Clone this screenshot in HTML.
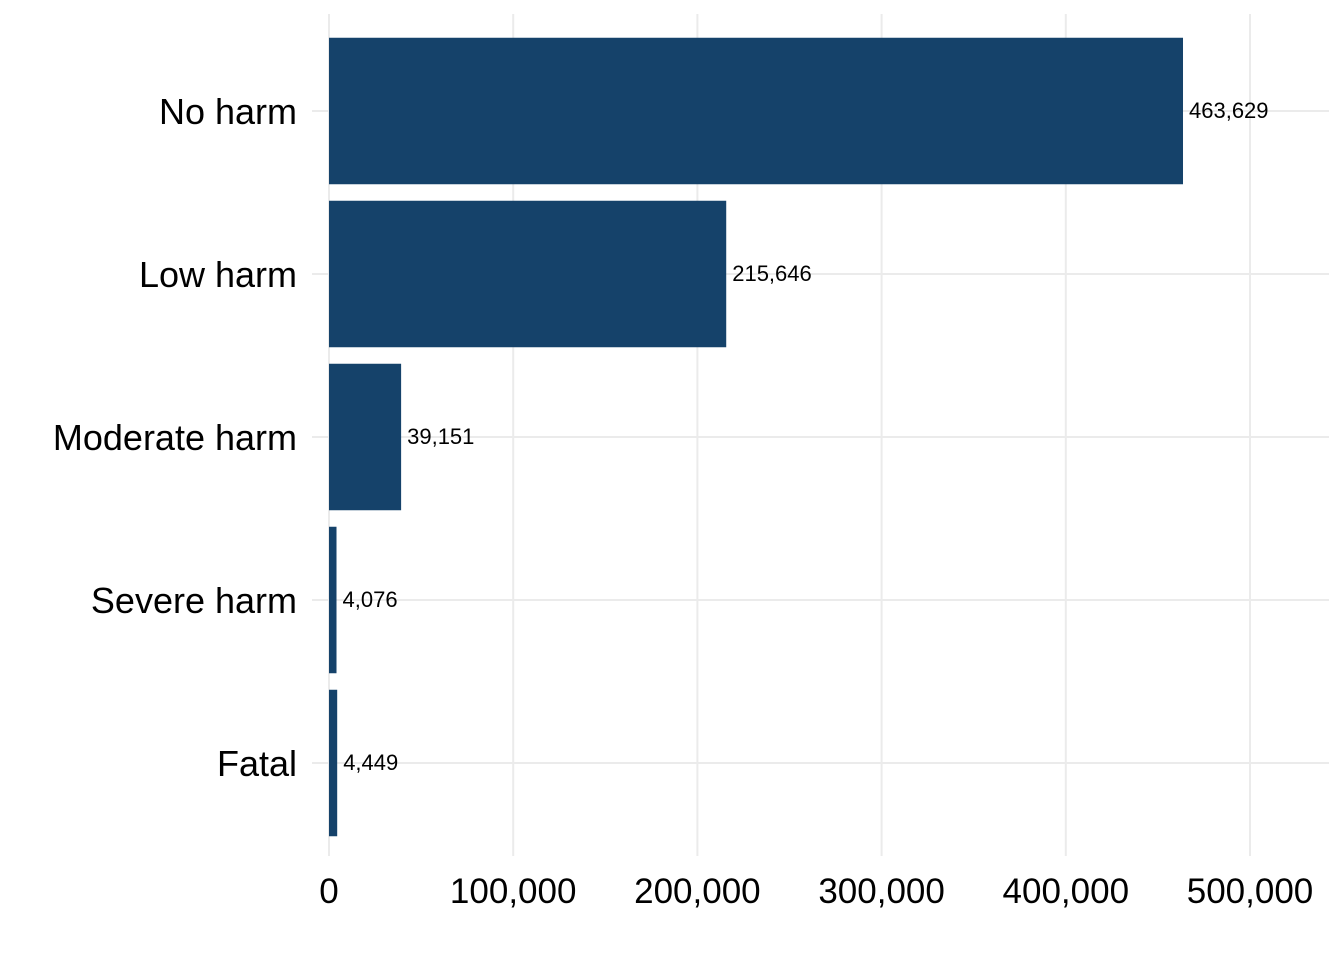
<!DOCTYPE html>
<html><head><meta charset="utf-8"><style>
body{margin:0;background:#fff}
svg{display:block;font-family:"Liberation Sans",Arial,sans-serif}
</style></head><body>
<svg id="chart" width="1344" height="960"></svg>
<script>
const categories=["No harm","Low harm","Moderate harm","Severe harm","Fatal"];
const values=[463629,215646,39151,4076,4449];
const ticks=[0,100000,200000,300000,400000,500000];
const tickLabels=["0","100,000","200,000","300,000","400,000","500,000"];

const svg=document.getElementById('chart');
const NS='http://www.w3.org/2000/svg';
const x0=329, pxPer=184.2/100000;
const xs=v=>x0+v*pxPer;
const yTop=29.5, step=163;
const yc=i=>yTop+step*(i+0.5)+0;
const bandH=146.5;
function mk(t,a){const e=document.createElementNS(NS,t);for(const k in a)e.setAttribute(k,a[k]);svg.appendChild(e);return e;}
ticks.forEach((t,i)=>{
  const l=mk('line',{x1:xs(t),x2:xs(t),y1:14,y2:856,stroke:'#ebebeb','stroke-width':2});
  
  
  const tx=mk('text',{x:xs(t),y:903,'font-size':35,'text-anchor':'middle',fill:'#000'});
  tx.textContent=tickLabels[i];
  
  
});
categories.forEach((c,i)=>{
  const y=yc(i);
  const g=mk('line',{x1:312,x2:1329,y1:y,y2:y,stroke:'#ebebeb','stroke-width':2});
  
  
  const r=mk('rect',{x:x0,y:y-bandH/2,width:xs(values[i])-x0,height:bandH,fill:'#15426a'});
  
  
  const lab=mk('text',{x:297,y:y+13,'font-size':36,'text-anchor':'end',fill:'#000'});
  lab.textContent=c;
  
  
  const vl=mk('text',{x:xs(values[i])+6,y:y+7,'font-size':22,fill:'#000'});
  vl.textContent=values[i].toLocaleString('en-US');
  
  
});
</script>
</body></html>
